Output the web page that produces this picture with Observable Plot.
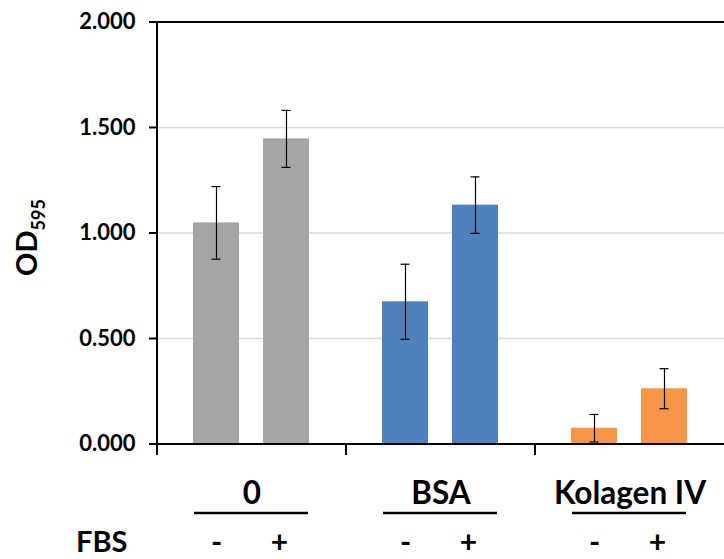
<!DOCTYPE html>
<html><head><meta charset="utf-8">
<script src="https://cdn.jsdelivr.net/npm/d3@7"></script>
<script src="https://cdn.jsdelivr.net/npm/@observablehq/plot@0.6"></script>
<style>
html,body{margin:0;padding:0;background:#fff;overflow:hidden}
svg{display:block}
</style></head><body><div id="chart"></div>
<script>
const groups = ["0", "BSA", "Kolagen IV"];
const fbsLevels = ["-", "+"];
const meanValues = [1.048, 1.446, 0.674, 1.132, 0.075, 0.262];
const errorValues = [0.172, 0.135, 0.178, 0.134, 0.065, 0.095];
const groupColors = ["#a5a5a5", "#4f81bd", "#f79646"];
const yTicks = [0, 0.5, 1, 1.5, 2];
const gridTicks = [0.5, 1, 1.5];
const yLabelMain = "OD";
const yLabelSub = "595";
const rowLabel = "FBS";

const data = meanValues.map((v, i) => ({
  group: groups[Math.floor(i / 2)], fbs: fbsLevels[i % 2], value: v, err: errorValues[i]
}));
const signRows = groups.flatMap(g => fbsLevels.map(f => ({group: g, fbs: f})));
const font = "Lato, 'Open Sans', sans-serif";

const plot = Plot.plot({
  width: 724, height: 559,
  marginTop: 21.5, marginBottom: 115.5, marginLeft: 157, marginRight: -3,
  style: {fontFamily: font, fontWeight: "bold", color: "#000", background: "#fff", overflow: "hidden"},
  fx: {domain: groups, padding: 0, axis: null},
  x: {domain: fbsLevels, paddingInner: 0.342, paddingOuter: 0.504, axis: null},
  y: {domain: [0, 2], axis: null},
  color: {domain: groups, range: groupColors},
  facet: {marginTop: 0, marginBottom: 0, marginLeft: 0, marginRight: 0},
  marks: [
    Plot.ruleY(gridTicks, {stroke: "#d9d9d9", strokeWidth: 1.5}),
    Plot.barY(data, {fx: "group", x: "fbs", y: "value", fill: "group"}),
    Plot.ruleX(data, {fx: "group", x: "fbs", y1: d => d.value - d.err, y2: d => d.value + d.err, stroke: "#000", strokeWidth: 1.2}),
    Plot.tickY(data, {fx: "group", x: "fbs", y: d => d.value + d.err, insetLeft: 18.5, insetRight: 18.5, stroke: "#000", strokeWidth: 1.2}),
    Plot.tickY(data, {fx: "group", x: "fbs", y: d => d.value - d.err, insetLeft: 18.5, insetRight: 18.5, stroke: "#000", strokeWidth: 1.2}),
    Plot.ruleY([0, 2], {stroke: "#000", strokeWidth: 2}),
    Plot.axisY({ticks: yTicks, tickFormat: d3.format(".3f"), tickSize: 8, tickPadding: 14, fontSize: 22, strokeWidth: 2, label: null}),
    Plot.text(groups, {fx: d => d, text: d => d, frameAnchor: "bottom", lineAnchor: "bottom", dy: 59.5, fontSize: 31.5, fill: "#000"}),
    Plot.ruleY(groups, {fx: d => d, y: () => 0, dy: 69, insetLeft: 37, insetRight: 38, stroke: "#000", strokeWidth: 2.5}),
    Plot.text(signRows.filter(d => d.fbs === "-"), {fx: "group", x: "fbs", text: "fbs", frameAnchor: "bottom", lineAnchor: "bottom", dy: 108.5, dx: 0, fontSize: 30, fill: "#000"}),
    Plot.text(signRows.filter(d => d.fbs === "+"), {fx: "group", x: "fbs", text: "fbs", frameAnchor: "bottom", lineAnchor: "bottom", dy: 108.5, dx: -7, fontSize: 30, fill: "#000"})
  ]
});

const svg = d3.select(plot);
const fxS = plot.scale("fx");
const yS = plot.scale("y");
const y0 = yS.apply(0), yTop = yS.apply(2);
const xLeft = fxS.apply(groups[0]);
// left axis line
svg.append("line").attr("x1", xLeft).attr("x2", xLeft).attr("y1", yTop).attr("y2", y0 + 11.5)
  .attr("stroke", "#000").attr("stroke-width", 2);
// group separator ticks
groups.slice(1).forEach(g => {
  const x = fxS.apply(g);
  svg.append("line").attr("x1", x).attr("x2", x).attr("y1", y0).attr("y2", y0 + 11.5)
    .attr("stroke", "#000").attr("stroke-width", 2);
});
// y label
const yl = svg.append("text").attr("transform", `translate(37,${(yTop + y0) / 2 + 5}) rotate(-90)`)
  .attr("text-anchor", "middle").attr("font-family", font).attr("font-weight", "bold").attr("fill", "#000");
yl.append("tspan").attr("font-size", 29).text(yLabelMain);
yl.append("tspan").attr("font-size", 18).attr("dy", 8).text(yLabelSub);
// FBS row label
svg.append("text").attr("x", 76).attr("y", y0 + 108.5).attr("text-anchor", "start")
  .attr("font-family", font).attr("font-weight", "bold")
  .attr("font-size", 29).attr("fill", "#000").text(rowLabel);

document.getElementById("chart").appendChild(plot);
</script></body></html>
